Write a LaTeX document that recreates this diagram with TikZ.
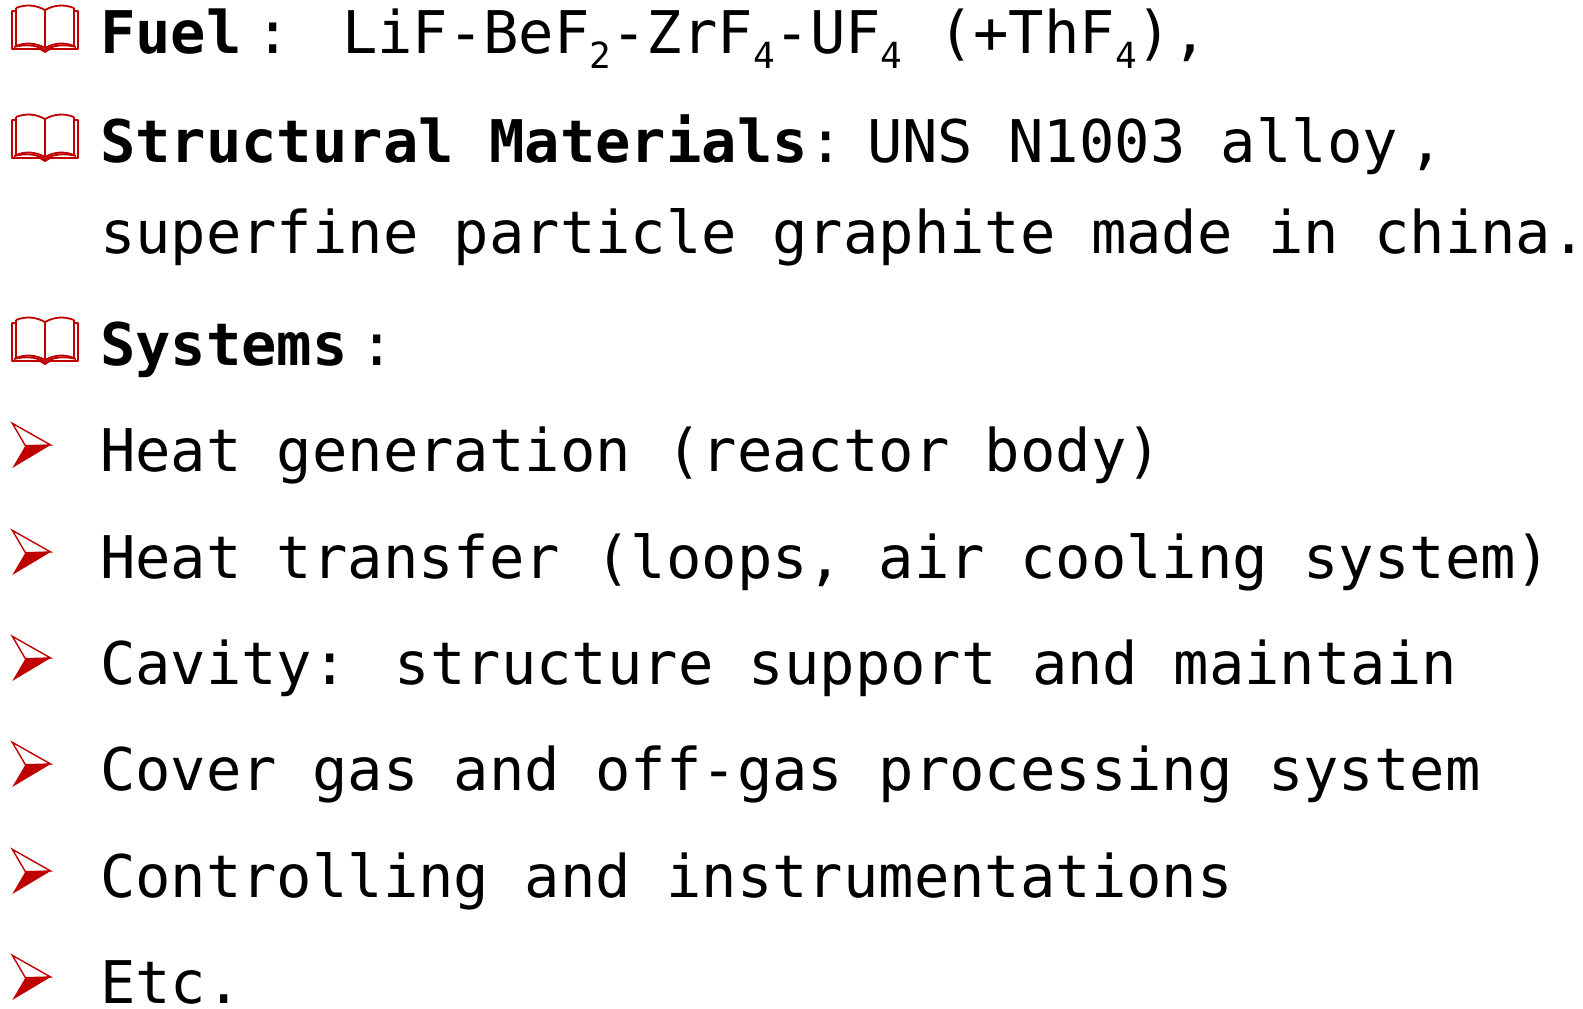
\documentclass[tikz,border=0pt]{standalone}
\usepackage{fontspec}
\newfontfamily\monofont{DejaVu Sans Mono}
\definecolor{bulletred}{HTML}{C00000}
\newcommand{\bigmono}{\monofont\fontsize{58.8}{60}\selectfont}
\newcommand{\submono}[1]{\raisebox{-15pt}{\monofont\fontsize{36}{37}\selectfont #1}}
\tikzset{
  txt/.style={font=\bigmono, anchor=base west, inner sep=0pt, outer sep=0pt, text=black},
  colon/.style={font=\bigmono, anchor=base, inner sep=0pt, outer sep=0pt, text=black},
  bookicon/.pic={
    \begin{scope}[draw=bulletred, line width=1.8pt, line join=round]
      \draw (4,6) -- (0,6) -- (0,44) -- (28,44) -- (33,47) -- (38,44) -- (66,44) -- (66,6) -- (62,6);
      \draw (4,3) .. controls (14,-1) and (24,0) .. (33,5) -- (33,43);
      \draw (62,3) .. controls (52,-1) and (42,0) .. (33,5);
      \draw (4,3) -- (4,41) .. controls (14,37) and (24,38) .. (33,43);
      \draw (62,3) -- (62,41) .. controls (52,37) and (42,38) .. (33,43);
      \draw (2,42) .. controls (14,39) and (24,40) .. (33,45) .. controls (42,40) and (52,39) .. (64,42);
    \end{scope}
  },
  arrowicon/.pic={
    \fill[bulletred] (13.4,22.7) -- (38.7,22) -- (0.3,45) -- cycle;
    \draw[bulletred, line width=1.4pt, line join=miter] (0.3,0.3) -- (38.7,22) -- (13.4,22.7) -- cycle;
  }
}
\begin{document}
\begin{tikzpicture}[x=1pt, y=-1pt]
  \useasboundingbox[fill=white] (0,0) rectangle (1583,1009);
  % icons
  \pic (b1) at (12,5) {bookicon};
  \pic (b2) at (12,114) {bookicon};
  \pic (b3) at (12,317) {bookicon};
  \pic (a1) at (12,423) {arrowicon};
  \pic (a2) at (12,530) {arrowicon};
  \pic (a3) at (12,636) {arrowicon};
  \pic (a4) at (12,742) {arrowicon};
  \pic (a5) at (12,849) {arrowicon};
  \pic (a6) at (12,955) {arrowicon};
  % line 1
  \node[txt] (fuel) at (100,53) {\bfseries Fuel};
  \node[colon] (fuelc) at (273,53) {:};
  \node[txt] (fuelf) at (342,53) {LiF-BeF\submono{2}-ZrF\submono{4}-UF\submono{4} (+ThF\submono{4}),};
  % line 2
  \node[txt] (struct) at (100,162) {\textbf{Structural Materials}:};
  \node[txt] (uns) at (867,162) {UNS N1003 alloy};
  \node[colon] (unsc) at (1426,162) {,};
  \node[txt] (graph) at (100,253) {superfine particle graphite made in china.};
  % line 3
  \node[txt] (sys) at (100,365) {\bfseries Systems};
  \node[colon] (sysc) at (377,365) {:};
  % bullets
  \node[txt] (l1) at (100,471) {Heat generation (reactor body)};
  \node[txt] (l2) at (100,578) {Heat transfer (loops, air cooling system)};
  \node[txt] (l3) at (100,684) {Cavity: structure support and maintain};
  \node[txt] (l4) at (100,790) {Cover gas and off-gas processing system};
  \node[txt] (l5) at (100,897) {Controlling and instrumentations};
  \node[txt, text depth=0pt] (l6) at (100,1003) {Etc.};
\end{tikzpicture}
\end{document}
